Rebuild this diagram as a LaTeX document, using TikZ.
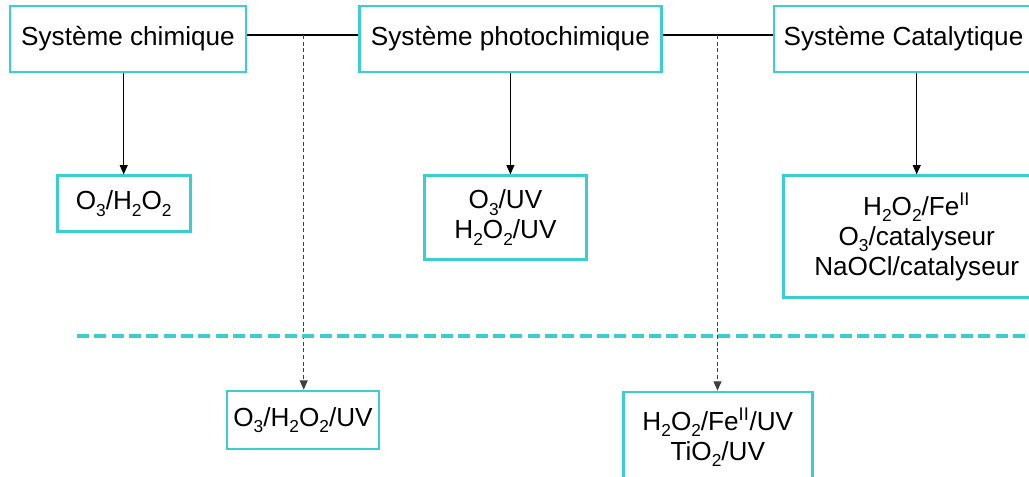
\documentclass[tikz,border=0pt]{standalone}
\usepackage{fontspec}
\setmainfont{Liberation Sans}
\usetikzlibrary{arrows.meta}

\newcommand{\chemsub}[1]{\raisebox{-0.25em}{\fontsize{13}{13}\selectfont #1}}

\begin{document}
\begin{tikzpicture}[x=0.75pt, y=-0.75pt,
  box/.style={draw=teal, line width=2pt, fill=white, align=center, inner sep=0pt,
    font=\fontsize{19.6}{22.5}\selectfont},
  link/.style={line width=0.8pt, -{Triangle[length=7pt, width=6pt]}},
  dashlink/.style={link, black!75, dash pattern=on 3pt off 2pt}]

% Define colors
\definecolor{teal}{RGB}{58, 206, 208}

% Page frame
\clip (0,0) rectangle (1029,477);
\fill[white] (0,0) rectangle (1029,477);

% Draw the systems
\node[box, minimum width=177pt, minimum height=49.5pt] (chim) at (128, 39) {Système chimique};
\node[box, minimum width=226.5pt, minimum height=49.5pt] (photo) at (510.4, 39) {Système photochimique};
\node[box, minimum width=194.25pt, minimum height=49.5pt] (cata) at (903.5, 39) {Système Catalytique};

% Draw the processes
\node[box, minimum width=99.75pt, minimum height=42pt] (oxy) at (123.7, 203.7)
  {O\chemsub{3}/H\chemsub{2}O\chemsub{2}};
\node[box, minimum width=121.8pt, minimum height=62.7pt] (uv) at (505.5, 217.5)
  {O\chemsub{3}/UV\\H\chemsub{2}O\chemsub{2}/UV};
\node[box, minimum width=200pt, minimum height=91.5pt] (fenton) at (916.7, 236.7)
  {H\chemsub{2}O\chemsub{2}/Fe\textsuperscript{II}\\O\chemsub{3}/catalyseur\\NaOCl/catalyseur};
\node[box, minimum width=114pt, minimum height=43.5pt] (oxyuv) at (303, 420)
  {O\chemsub{3}/H\chemsub{2}O\chemsub{2}/UV};
\node[box, minimum width=141.75pt, minimum height=67.5pt] (photofenton) at (717.8, 437)
  {H\chemsub{2}O\chemsub{2}/Fe\textsuperscript{II}/UV\\TiO\chemsub{2}/UV};

% Draw the links
\coordinate (j1) at (303.7, 35);
\coordinate (j2) at (717.5, 35);
\draw[line width=0.8pt] (chim.east |- j1) -- (photo.west |- j1);
\draw[line width=0.8pt] (photo.east |- j2) -- (cata.west |- j2);
\draw[link] (chim.south -| oxy.north) -- (oxy.north);
\draw[link] (photo.south) -- (photo.south |- uv.north);
\draw[link] (cata.south -| fenton.north) -- (fenton.north);
\draw[dashlink] (j1) -- (j1 |- oxyuv.north);
\draw[dashlink] (j2) -- (j2 |- photofenton.north);

% Draw the separator
\draw[teal, line width=2.5pt, dash pattern=on 9pt off 4pt] (77, 336) -- (1035, 336);

\end{tikzpicture}
\end{document}
